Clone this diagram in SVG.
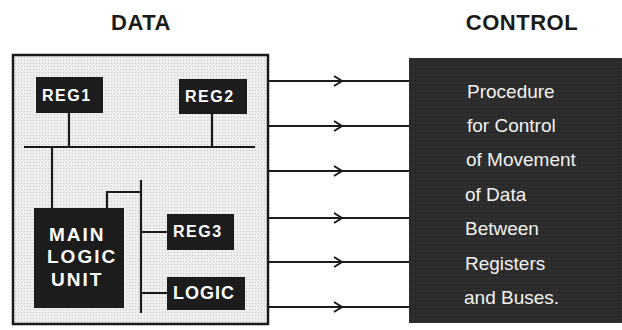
<svg xmlns="http://www.w3.org/2000/svg" width="622" height="330" viewBox="0 0 622 330">
<defs>
<style>
.title{font-family:"Liberation Sans",Arial,sans-serif;font-weight:bold;font-size:22px;fill:#1a1a1a;text-anchor:middle;letter-spacing:0.5px}
.reg{fill:#1c1c1c}
.lbl{font-family:"Liberation Sans",Arial,sans-serif;font-weight:bold;font-size:16px;fill:#ffffff;letter-spacing:1.5px}
.big{font-size:19px;letter-spacing:2px}
.ctl{font-family:"Liberation Sans",Arial,sans-serif;font-size:19px;fill:#f2f2f2}
.wire{stroke:#1a1a1a;stroke-width:2.2;fill:none}
.arr{stroke:#1a1a1a;stroke-width:2;fill:none}
</style>
<pattern id="dots" width="3" height="3" patternUnits="userSpaceOnUse">
<rect width="3" height="3" fill="#eeeeee"/>
<rect width="1" height="1" fill="#c8c8c8"/>
</pattern>
<pattern id="noise" width="4" height="4" patternUnits="userSpaceOnUse">
<rect width="4" height="4" fill="#2c2c2c"/>
<rect x="1" y="2" width="1" height="1" fill="#3a3a3a"/>
<rect x="3" y="0" width="1" height="1" fill="#222222"/>
</pattern>
</defs>
<rect width="622" height="330" fill="#ffffff"/>
<text class="title" x="141" y="30">DATA</text>
<text class="title" x="522" y="30">CONTROL</text>
<g id="data-box">
<rect x="13" y="55" width="255" height="269" fill="url(#dots)" stroke="#1a1a1a" stroke-width="2.5"/>
</g>
<g id="control-box">
<rect x="409" y="58" width="215" height="265" fill="url(#noise)"/>
<text class="ctl" x="467" y="98">Procedure</text>
<text class="ctl" x="467" y="132">for Control</text>
<text class="ctl" x="466" y="166">of Movement</text>
<text class="ctl" x="465" y="201">of Data</text>
<text class="ctl" x="465" y="235">Between</text>
<text class="ctl" x="465" y="270">Registers</text>
<text class="ctl" x="464" y="304">and Buses.</text>
</g>
<g id="connectors">
<path class="wire" d="M24 147H255M69 113V147M212 114V147M52 147V208M107 208V192H141M141 180V313M141 232H167M141 293H167"/>
<path class="wire" d="M268 81H409M268 126H409M268 171H409M268 218H409M268 262H409M268 307H409"/>
<path class="arr" d="M334 76l8 5-8 5M334 121l8 5-8 5M334 166l8 5-8 5M334 213l8 5-8 5M334 257l8 5-8 5M334 302l8 5-8 5"/>
</g>
<g id="reg1"><rect class="reg" x="36" y="77" width="67" height="36"/><text class="lbl" x="42" y="101">REG1</text></g>
<g id="reg2"><rect class="reg" x="179" y="79" width="68" height="35"/><text class="lbl" x="185" y="102">REG2</text></g>
<g id="main-logic-unit"><rect class="reg" x="34" y="208" width="90" height="100"/>
<text class="lbl big" x="49" y="241">MAIN</text><text class="lbl big" x="47" y="263">LOGIC</text><text class="lbl big" x="51" y="286">UNIT</text></g>
<g id="reg3"><rect class="reg" x="167" y="214" width="67" height="36"/><text class="lbl" x="173" y="237">REG3</text></g>
<g id="logic"><rect class="reg" x="167" y="277" width="78" height="33"/><text class="lbl" x="173" y="299" style="font-size:18px;letter-spacing:1px">LOGIC</text></g>
</svg>
